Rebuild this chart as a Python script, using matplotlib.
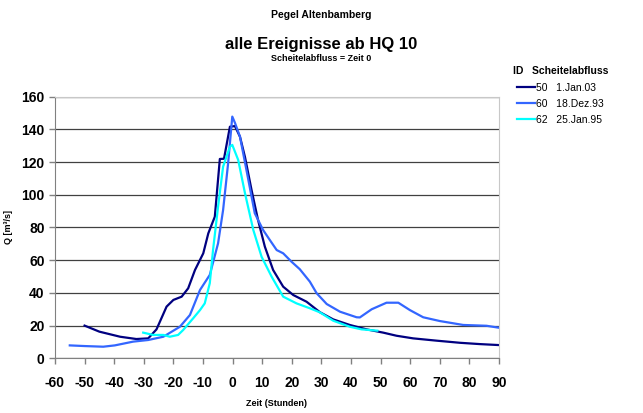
import matplotlib
matplotlib.use("Agg")
import matplotlib.pyplot as plt

plt.rcParams["font.family"] = ["Liberation Sans", "DejaVu Sans"]
plt.rcParams["axes.unicode_minus"] = False

# Series 50 - 1.Jan.03
t_50 = [-50, -45, -38, -32.5, -28.5, -25.7, -22.3, -20, -17.2, -15, -12.7, -9.9, -8.2, -6,
        -4.3, -2.9, -0.9, 0.8, 2.5, 4.2, 6.4, 8.6, 10.9, 13.7, 17.1, 20.5, 25, 29.5,
        34, 39.6, 45.3, 50.9, 55.4, 61, 68.9, 76.8, 83.5, 90]
q_50 = [20, 16.3, 13.2, 11.8, 12.2, 17.7, 31.6, 35.7, 37.7, 42.8, 54, 64.2, 76.4, 86.6,
        121.9, 122, 141.6, 142, 135.5, 123, 103, 84.6, 68.3, 54, 43.8, 38.7, 34.6, 28.2,
        23.8, 20.4, 17.7, 15.7, 13.8, 12.2, 10.8, 9.5, 8.7, 8.1]

# Series 60 - 18.Dez.93
t_60 = [-55, -50, -43.7, -39.8, -33.6, -28.5, -23.4, -17.8, -14.4, -11, -7.7, -4.9, -3.2,
        -1.5, -0.1, 0.8, 2.5, 4.7, 7.5, 10.3, 12.6, 14.9, 17.1, 19.9, 22.7, 26.1, 28.4,
        31.8, 36.3, 41.9, 43, 47, 52, 56, 59.9, 64.4, 70, 77.9, 85.8, 90]
q_60 = [7.9, 7.5, 7.1, 7.9, 10.2, 11.2, 13.2, 19.3, 26.5, 41.8, 51, 70.3, 90.7,
        119.3, 147.8, 144, 135.5, 115, 88.7, 78.5, 72.3, 66.2, 64.2, 59.1, 54.5, 46.9, 39.8,
        33.2, 28.5, 25.1, 25, 30, 34, 34, 29.5, 25.1, 22.8, 20.4, 19.9, 18.7]

# Series 62 - 25.Jan.95
t_62 = [-30.2, -26.8, -23.4, -21.2, -18.4, -16.7, -13.3, -11, -9.4, -7.7, -6.6, -4.9,
        -3.2, -0.9, -0.1, 1.9, 4.2, 7, 9.8, 13.2, 17.1, 21.6, 26.1, 29.5, 34, 39.6,
        43.6, 48.9]
q_62 = [15.7, 14.3, 14.3, 13.2, 14.3, 17.3, 24.5, 29.5, 33.6, 45.9, 66.2, 92.7,
        117.2, 129.4, 130.5, 121.3, 100.9, 78.5, 62.1, 49.9, 37.7, 33.6, 30.6, 28.1, 23,
        19.3, 17.7, 16.9]

series = [
    ("50   1.Jan.03", t_50, q_50, "#000080"),
    ("60   18.Dez.93", t_60, q_60, "#3366FF"),
    ("62   25.Jan.95", t_62, q_62, "#00FFFF"),
]

fig = plt.figure(figsize=(6.43, 4.13), dpi=100)
ax = fig.add_axes([0.0855, 0.1324, 0.6905, 0.6336])

for label, t, q, col in series:
    ax.plot(t, q, color=col, linewidth=1.6, label=label)

ax.set_xlim(-60, 90)
ax.set_ylim(0, 160)
ax.set_xticks(range(-60, 91, 10))
ax.set_yticks(range(0, 161, 20))
ax.yaxis.grid(True, color="#404040", linewidth=0.9)
ax.set_axisbelow(True)
for lab in ax.get_xticklabels() + ax.get_yticklabels():
    lab.set_fontweight("bold")
ax.tick_params(labelsize=10, color="#808080", length=4, width=1)
ax.tick_params(axis="x", pad=9)
ax.spines["left"].set_color("#808080")
ax.spines["bottom"].set_color("#808080")
ax.spines["top"].set_color("#C8C8C8")
ax.spines["right"].set_color("#C8C8C8")

ax.set_xlabel("Zeit (Stunden)", fontsize=6.5, fontweight="bold", labelpad=6)
ax.set_ylabel("Q [m³/s]", fontsize=6.5, fontweight="bold", labelpad=6)

fig.text(0.5, 0.963, "Pegel Altenbamberg", ha="center", va="center",
         fontsize=7.5, fontweight="bold")
fig.text(0.5, 0.893, "alle Ereignisse ab HQ 10", ha="center", va="center",
         fontsize=12, fontweight="bold")
fig.text(0.5, 0.859, "Scheitelabfluss = Zeit 0", ha="center", va="center",
         fontsize=6.5, fontweight="bold")

leg = fig.legend(loc="upper left", bbox_to_anchor=(0.783, 0.862), frameon=False,
                 fontsize=7.5, handlelength=1.7, handletextpad=0.1, labelspacing=0.6,
                 title="ID   Scheitelabfluss", title_fontproperties={"weight": "bold", "size": 7.5})

fig.savefig("out.png", dpi=100)
